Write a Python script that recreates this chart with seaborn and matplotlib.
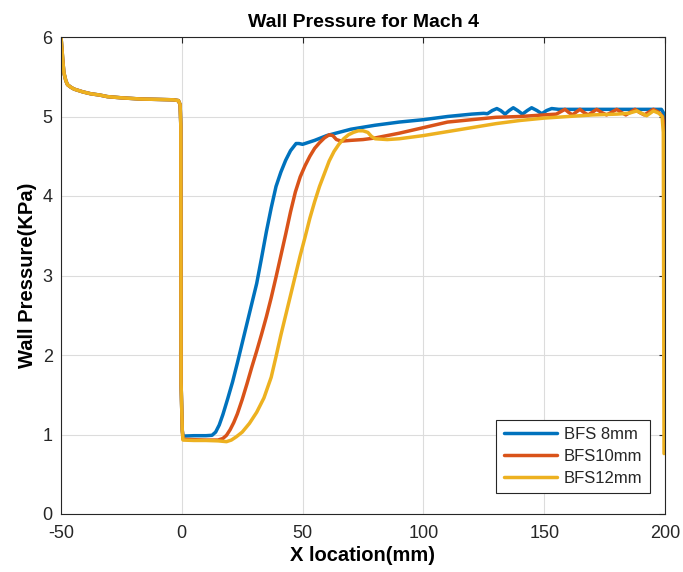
import numpy as np
import pandas as pd
import matplotlib
matplotlib.use("Agg")
import matplotlib.pyplot as plt
import seaborn as sns

# ---------------- data ----------------
series_names = ["BFS 8mm", "BFS10mm", "BFS12mm"]
series_colors = ["#0072BD", "#D95319", "#EDB120"]

# upstream part shared by all three cases
lead_x = [-50, -49.6, -49.3, -48.8, -48.0, -47.3, -46.0, -44.6, -41.0, -37.7,
          -34.0, -30.8, -25.0, -17.1, -10.0, -3.5, -1.4, -0.7, -0.4, -0.3, 0.2]
lead_y = [6.0, 5.85, 5.72, 5.55, 5.45, 5.40, 5.37, 5.345, 5.31, 5.286,
          5.27, 5.25, 5.235, 5.22, 5.215, 5.21, 5.20, 5.15, 4.88, 1.65, 1.05]

bfs8_x = [0.5, 5, 10, 12.5, 14, 15.5, 17, 19, 21, 23, 25, 27, 29, 31, 33, 35, 37,
          39, 41, 43, 45, 47.3, 48.5, 50, 52, 55, 60, 65, 70, 80, 90, 100, 110,
          120, 125, 126.5, 128.5, 130.4, 132, 133.8, 135.5, 137.2, 139, 141, 143,
          144.8, 147, 149, 151, 153.1, 156, 160, 170, 180, 190, 198.5, 199.3,
          199.7]
bfs8_y = [0.98, 0.985, 0.985, 0.99, 1.03, 1.12, 1.25, 1.45, 1.66, 1.9, 2.15,
          2.4, 2.65, 2.9, 3.22, 3.55, 3.85, 4.12, 4.3, 4.45, 4.57, 4.66, 4.66,
          4.65, 4.67, 4.70, 4.76, 4.80, 4.84, 4.89, 4.93, 4.96, 5.0, 5.03, 5.04,
          5.035, 5.075, 5.10, 5.075, 5.03, 5.075, 5.11, 5.075, 5.03, 5.075, 5.11,
          5.075, 5.035, 5.075, 5.10, 5.09, 5.09, 5.09, 5.09, 5.09, 5.09, 5.05,
          4.84]

bfs10_x = [0.5, 5, 10, 15, 17, 18.5, 20, 21.5, 23, 25, 27, 29, 31, 33, 35, 37,
           39, 41, 43, 45, 47, 49, 51, 53, 55, 57, 59, 61, 62.5, 64, 66, 70, 75,
           80, 90, 100, 110, 120, 130, 140, 150, 155, 156.8, 158.6, 160.2, 161.7,
           163.2, 164.8, 166.5, 168.2, 170, 171.7, 173.8, 175.8, 178, 180, 182,
           183.8, 185.7, 187.6, 189.5, 191.4, 193.3, 195.2, 197.5, 199.0, 199.5,
           199.8]
bfs10_y = [0.94, 0.935, 0.93, 0.93, 0.95, 0.99, 1.06, 1.15, 1.26, 1.44, 1.64,
           1.85, 2.05, 2.26, 2.48, 2.72, 2.98, 3.25, 3.52, 3.8, 4.05, 4.24, 4.38,
           4.5, 4.6, 4.67, 4.73, 4.77, 4.76, 4.71, 4.69, 4.70, 4.71, 4.73, 4.79,
           4.86, 4.93, 4.96, 4.99, 5.0, 5.02, 5.03, 5.06, 5.09, 5.05, 5.02, 5.055,
           5.09, 5.05, 5.02, 5.055, 5.09, 5.05, 5.02, 5.055, 5.09, 5.05, 5.02,
           5.055, 5.09, 5.05, 5.02, 5.055, 5.09, 5.05, 5.0, 4.9, 4.04]

bfs12_x = [0.5, 5, 10, 15, 18.5, 20.5, 22.5, 25, 28, 31, 34, 37, 39, 41, 43, 45,
           47, 49, 51, 53, 55, 57, 59, 61, 63, 65, 67, 69, 71, 73, 75, 77, 78.5,
           80, 85, 90, 100, 110, 120, 130, 140, 150, 160, 170, 180, 185, 188.3,
           192.4, 195.2, 197.5, 198.8, 199.3, 199.6]
bfs12_y = [0.93, 0.925, 0.925, 0.92, 0.91, 0.93, 0.97, 1.03, 1.14, 1.28, 1.46,
           1.72, 1.98, 2.25, 2.5, 2.75, 3.0, 3.25, 3.48, 3.72, 3.93, 4.12, 4.28,
           4.44, 4.56, 4.65, 4.72, 4.77, 4.80, 4.82, 4.82, 4.80, 4.75, 4.72, 4.71,
           4.72, 4.76, 4.81, 4.86, 4.91, 4.95, 4.98, 5.0, 5.02, 5.03, 5.04, 5.07,
           5.01, 5.07, 5.04, 5.0, 4.8, 0.76]

x_ticks = [-50, 0, 50, 100, 150, 200]
y_ticks = [0, 1, 2, 3, 4, 5, 6]

# ---------------- build table ----------------
frames = []
for name, xs, ys in [(series_names[0], bfs8_x, bfs8_y),
                     (series_names[1], bfs10_x, bfs10_y),
                     (series_names[2], bfs12_x, bfs12_y)]:
    frames.append(pd.DataFrame({"x": lead_x + xs, "y": lead_y + ys,
                                "case": name}))
df = pd.concat(frames, ignore_index=True)

# ---------------- style ----------------
sns.set_style("white")
plt.rcParams["font.family"] = ["Liberation Sans", "DejaVu Sans"]
ink = "#262626"

fig = plt.figure(figsize=(6.83, 5.72), dpi=100)
ax = fig.add_axes([61 / 683, (572 - 514) / 572, (665 - 61) / 683, (514 - 37) / 572])

sns.lineplot(data=df, x="x", y="y", hue="case", hue_order=series_names,
             palette=series_colors, sort=False, estimator=None,
             linewidth=2.5, ax=ax)

ax.set_xlim(-50, 200)
ax.set_ylim(0, 6)
ax.set_xticks(x_ticks)
ax.set_yticks(y_ticks)
ax.set_xticklabels([str(t) for t in x_ticks])
ax.set_yticklabels([str(t) for t in y_ticks])
ax.grid(True, color="#dcdcdc", linewidth=0.8)
ax.set_axisbelow(True)
for s in ax.spines.values():
    s.set_visible(True)
    s.set_color(ink)
    s.set_linewidth(0.8)
ax.tick_params(direction="in", length=4, width=0.8, color=ink, labelcolor=ink,
               labelsize=13, top=True, right=True)
ax.tick_params(axis="x", pad=8)
ax.tick_params(axis="y", pad=6)

ax.set_title("Wall Pressure for Mach 4", fontsize=14, fontweight="bold",
             color="black", pad=7)
ax.set_xlabel("X location(mm)", fontsize=14.5, fontweight="bold", color="black",
              labelpad=3)
ax.set_ylabel("Wall Pressure(KPa)", fontsize=14.5, fontweight="bold", color="black",
              labelpad=4)

leg = ax.legend(loc="lower right", bbox_to_anchor=(0.975, 0.044), borderaxespad=0,
                fontsize=12, handlelength=3.2, handletextpad=0.4,
                labelspacing=0.4, borderpad=0.45, fancybox=False, framealpha=1,
                edgecolor=ink, title=None)
leg.get_frame().set_linewidth(0.8)
for line in leg.get_lines():
    line.set_linewidth(2.5)

fig.savefig("out.png", dpi=100)
